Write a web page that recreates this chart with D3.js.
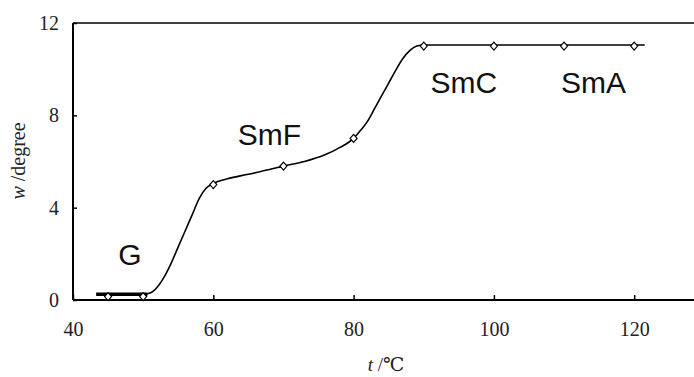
<!DOCTYPE html>
<html>
<head>
<meta charset="utf-8">
<script src="https://cdn.jsdelivr.net/npm/d3@7"></script>
<style>
  body { margin: 0; background: #fff; }
  svg { display: block; }
</style>
</head>
<body>
<div class="diagram"></div>
<script>
// measured points (diamonds)
const pointT = [45, 50, 60, 70, 80, 90, 100, 110, 120];
const pointW = [0.15, 0.15, 5.0, 5.8, 7.0, 11.0, 11.0, 11.0, 11.0];

// fitted curve
const curveT = [50, 51, 52, 53, 54, 55, 56, 57, 58, 59, 60, 62, 65, 68, 70, 73, 76, 78, 80, 81, 82, 83, 84, 85, 86, 87, 88, 89, 90, 95, 100, 110, 121.5];
const curveW = [0.25, 0.3, 0.55, 1.0, 1.6, 2.3, 3.0, 3.7, 4.4, 4.85, 5.05, 5.25, 5.45, 5.65, 5.8, 6.0, 6.3, 6.6, 7.0, 7.35, 7.75, 8.3, 8.85, 9.4, 9.95, 10.45, 10.8, 11.0, 11.05, 11.05, 11.05, 11.05, 11.05];

// thick G-phase segment
const gT = [43.3, 50.6];
const gW = [0.25, 0.25];

const xTicks = [40, 60, 80, 100, 120];
const yTicks = [0, 4, 8, 12];

const phaseNames = ["G", "SmF", "SmC", "SmA"];
const phaseT = [48.1, 68.0, 95.7, 114.2];
const phaseW = [1.52, 6.72, 8.97, 8.97];

const w = 694, h = 377;
const padLeft = 73, padTop = 23, axisY = 300;
const serif = "'Liberation Serif', 'DejaVu Serif', serif";

const svg = d3.select(".diagram")
  .append("svg")
  .attr("width", w)
  .attr("height", h);

const x = d3.scaleLinear().domain([40, 130]).range([padLeft, padLeft + 90 * 7.015]);
const y = d3.scaleLinear().domain([0, 12]).range([axisY, padTop]);

// top frame line
svg.append("line")
  .attr("x1", padLeft).attr("x2", w)
  .attr("y1", padTop).attr("y2", padTop)
  .attr("stroke", "#000").attr("stroke-width", 1.5);

const xAxis = d3.axisBottom(x).tickValues(xTicks).tickSizeInner(-5).tickSizeOuter(0).tickPadding(22);
const yAxis = d3.axisLeft(y).tickValues(yTicks).tickSizeInner(-4).tickSizeOuter(0).tickPadding(14);

const gx = svg.append("g")
  .attr("transform", "translate(0," + axisY + ")")
  .call(xAxis);
const gy = svg.append("g")
  .attr("transform", "translate(" + padLeft + ",0)")
  .call(yAxis);

[gx, gy].forEach(g => {
  g.attr("font-family", serif).attr("font-size", 20);
  g.select(".domain").attr("stroke", "#000").attr("stroke-width", 2);
  g.selectAll(".tick line").attr("stroke", "#000").attr("stroke-width", 1.5);
  g.selectAll(".tick text")
    .style("font-family", serif)
    .style("font-size", "20px")
    .attr("fill", "#222");
});
gx.select(".domain").attr("d", "M" + padLeft + ",0H" + w);
gy.select(".domain").attr("d", "M0," + axisY + "V" + padTop);

const line = d3.line()
  .x(d => x(d[0]))
  .y(d => y(d[1]))
  .curve(d3.curveMonotoneX);

svg.append("path")
  .datum(curveT.map((t, i) => [t, curveW[i]]))
  .attr("d", line)
  .attr("fill", "none")
  .attr("stroke", "#000")
  .attr("stroke-width", 1.6);

svg.append("path")
  .datum(gT.map((t, i) => [t, gW[i]]))
  .attr("d", d3.line().x(d => x(d[0])).y(d => y(d[1])))
  .attr("fill", "none")
  .attr("stroke", "#000")
  .attr("stroke-width", 3.5);

// diamonds
svg.selectAll(".pt")
  .data(pointT.map((t, i) => [t, pointW[i]]))
  .enter()
  .append("path")
  .attr("class", "pt")
  .attr("transform", d => "translate(" + x(d[0]) + "," + y(d[1]) + ")")
  .attr("d", "M0,-4L3.5,0L0,4L-3.5,0Z")
  .attr("fill", "#fff")
  .attr("stroke", "#000")
  .attr("stroke-width", 1.2);

// phase labels
svg.selectAll(".phase")
  .data(phaseNames)
  .enter()
  .append("text")
  .attr("class", "phase")
  .attr("x", (d, i) => x(phaseT[i]))
  .attr("y", (d, i) => y(phaseW[i]))
  .attr("text-anchor", "middle")
  .style("font-family", "'Liberation Sans', Arial, sans-serif")
  .style("font-size", "30px")
  .attr("fill", "#111")
  .text(d => d);

// axis titles
const yt = svg.append("text")
  .attr("transform", "translate(25,161) rotate(-90)")
  .attr("text-anchor", "middle")
  .style("font-family", serif)
  .style("font-size", "20px")
  .attr("fill", "#222");
yt.append("tspan").style("font-style", "italic").text("w");
yt.append("tspan").text(" /degree");

const xt = svg.append("text")
  .attr("x", 386).attr("y", 371)
  .attr("text-anchor", "middle")
  .style("font-family", serif)
  .style("font-size", "19px")
  .attr("fill", "#222");
xt.append("tspan").style("font-style", "italic").text("t");
xt.append("tspan").text(" /℃");
</script>
</body>
</html>
